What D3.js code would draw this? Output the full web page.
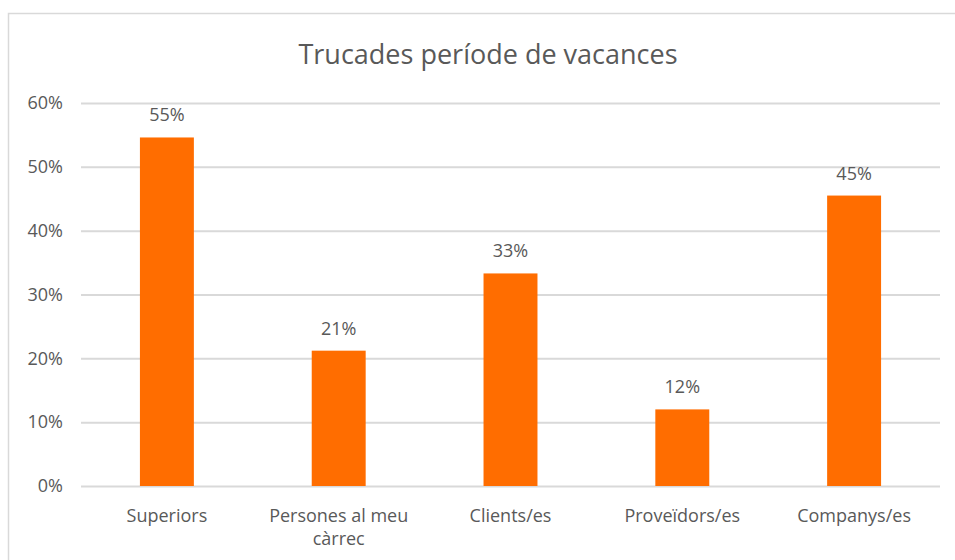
<!DOCTYPE html>
<html>
<head>
<meta charset="utf-8">
<script src="https://cdn.jsdelivr.net/npm/d3@7"></script>
<style>
  body { margin: 0; background: #fff; }
  text { font-family: "Open Sans", sans-serif; fill: #595959; }
</style>
</head>
<body>
<div id="chart"></div>
<script>
// Chart data.
var categories = ["Superiors", "Persones al meu càrrec", "Clients/es", "Proveïdors/es", "Companys/es"];
var values = [54.6, 21.2, 33.3, 12.0, 45.5];
var valueLabels = ["55%", "21%", "33%", "12%", "45%"];
var yTicks = [0, 10, 20, 30, 40, 50, 60];
var title = "Trucades període de vacances";

var width = 955, height = 560;
var margin = {top: 103, right: 15, bottom: 74, left: 81};

var svg = d3.select("#chart").append("svg")
  .attr("width", width)
  .attr("height", height);

// Outer chart frame.
svg.append("rect")
  .attr("x", 8.5).attr("y", 13.5)
  .attr("width", 960).attr("height", 600)
  .attr("fill", "none")
  .attr("stroke", "#d9d9d9")
  .attr("stroke-width", 1.5);

svg.append("text")
  .attr("x", 488).attr("y", 64)
  .attr("text-anchor", "middle")
  .style("font-size", "27px")
  .text(title);

var x = d3.scaleBand()
  .domain(categories)
  .range([margin.left, width - margin.right])
  .paddingInner(0.686)
  .paddingOuter(0.343);

var y = d3.scaleLinear()
  .domain([0, 60])
  .range([height - margin.bottom, margin.top]);

// Gridlines and y tick labels via the axis generator.
var yAxis = d3.axisLeft(y)
  .tickValues(yTicks)
  .tickSize(-(width - margin.right - margin.left))
  .tickPadding(18)
  .tickFormat(function (d) { return d + "%"; });

var gy = svg.append("g")
  .attr("transform", "translate(" + margin.left + ",0)")
  .call(yAxis);
gy.select(".domain").remove();
gy.selectAll(".tick line").attr("stroke", "#d9d9d9").attr("stroke-width", 2);
gy.selectAll(".tick text")
  .style("font-size", "18px")
  .attr("fill", "#595959");

// Bars.
svg.append("g").selectAll("rect")
  .data(values)
  .join("rect")
  .attr("x", function (d, i) { return x(categories[i]); })
  .attr("y", function (d) { return y(d); })
  .attr("width", x.bandwidth())
  .attr("height", function (d) { return y(0) - y(d); })
  .attr("fill", "#ff6d00");

// Value labels above bars.
svg.append("g").selectAll("text")
  .data(values)
  .join("text")
  .attr("x", function (d, i) { return x(categories[i]) + x.bandwidth() / 2; })
  .attr("y", function (d) { return y(d) - 16; })
  .attr("text-anchor", "middle")
  .style("font-size", "18px")
  .text(function (d, i) { return valueLabels[i]; });

// Category labels, wrapping the long one like the original.
var wrapped = {"Persones al meu càrrec": ["Persones al meu", "càrrec"]};
var xl = svg.append("g").selectAll("text")
  .data(categories)
  .join("text")
  .attr("x", function (d) { return x(d) + x.bandwidth() / 2; })
  .attr("y", 522)
  .attr("text-anchor", "middle")
  .style("font-size", "18px");
xl.each(function (d) {
  var lines = wrapped[d] || [d];
  var t = d3.select(this);
  lines.forEach(function (line, i) {
    t.append("tspan")
      .attr("x", t.attr("x"))
      .attr("dy", i === 0 ? 0 : 23)
      .text(line);
  });
});
</script>
</body>
</html>
